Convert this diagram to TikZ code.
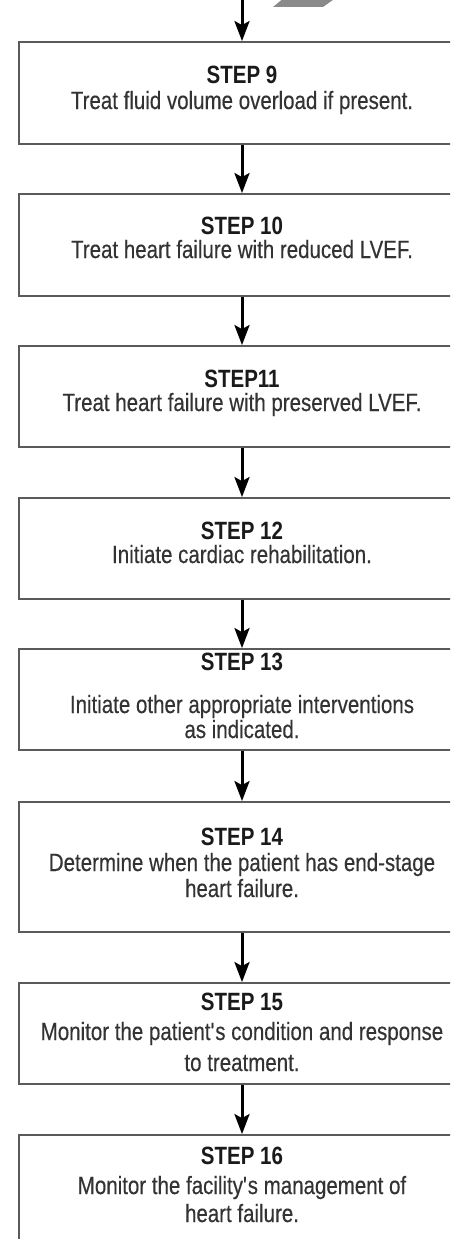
\documentclass[tikz,border=0pt]{standalone}
\usepackage{fontspec}
\setmainfont{Liberation Sans}[FakeStretch=0.82, UprightFeatures={FakeBold=0.3}]
\usetikzlibrary{arrows.meta}
\definecolor{boxgray}{HTML}{5A5A5A}
\definecolor{txtgray}{HTML}{333333}
\definecolor{headgray}{HTML}{1A1A1A}
\definecolor{shapegray}{HTML}{8A8A8A}
\begin{document}
\begin{tikzpicture}[x=1pt,y=-1pt,
  stepbox/.style={draw=boxgray, line width=1.8pt, fill=white, rectangle, inner sep=0pt, minimum width=446pt},
  arr/.style={line width=3pt, -{Stealth[length=20pt,width=15pt,inset=4pt]}},
  ln/.style={inner sep=0pt, text height=18pt, text depth=0pt, font=\fontsize{25}{28}\selectfont, text=txtgray},
  hd/.style={ln, font=\fontsize{25}{28}\selectfont\bfseries, text=headgray}]
\clip (0,0) rectangle (450,1239);
\fill[white] (0,0) rectangle (450,1239);
% partial grey shape at top
\fill[shapegray] (273,7) -- (285,-3) -- (337,-3) -- (323,7) -- cycle;
% boxes
\node[stepbox, minimum height=102pt] (b9)  at (242,93) {};
\node[stepbox, minimum height=102pt] (b10) at (242,245) {};
\node[stepbox, minimum height=101pt] (b11) at (242,396.5) {};
\node[stepbox, minimum height=101pt] (b12) at (242,548.5) {};
\node[stepbox, minimum height=101pt] (b13) at (242,699.5) {};
\node[stepbox, minimum height=130pt] (b14) at (242,867) {};
\node[stepbox, minimum height=101pt] (b15) at (242,1033.5) {};
\node[stepbox, minimum height=125pt] (b16) at (242,1197.5) {};
% texts
\node[hd] (s9) at (242,75) {STEP 9};
\node[ln] (d9) at (242,100) {Treat fluid volume overload if present.};
\node[hd] (s10) at (242,225) {STEP 10};
\node[ln] (d10) at (242,249) {Treat heart failure with reduced LVEF.};
\node[hd] (s11) at (242,378) {STEP11};
\node[ln] (d11) at (242,402) {Treat heart failure with preserved LVEF.};
\node[hd] (s12) at (242,530) {STEP 12};
\node[ln] (d12) at (242,554) {Initiate cardiac rehabilitation.};
\node[hd] (s13) at (242,661) {STEP 13};
\node[ln] (d13a) at (242,704) {Initiate other appropriate interventions};
\node[ln] (d13b) at (242,729) {as indicated.};
\node[hd] (s14) at (242,836) {STEP 14};
\node[ln] (d14a) at (242,862) {Determine when the patient has end-stage};
\node[ln] (d14b) at (242,888) {heart failure.};
\node[hd] (s15) at (242,1001) {STEP 15};
\node[ln] (d15a) at (242,1031) {Monitor the patient\textquotesingle s condition and response};
\node[ln] (d15b) at (242,1062) {to treatment.};
\node[hd] (s16) at (242,1155) {STEP 16};
\node[ln] (d16a) at (242,1185) {Monitor the facility\textquotesingle s management of};
\node[ln] (d16b) at (242,1213) {heart failure.};
% connectors
\coordinate (top) at (242,0);
\draw[arr] (top) -- (b9.north);
\draw[arr] (b9.south) -- (b10.north);
\draw[arr] (b10.south) -- (b11.north);
\draw[arr] (b11.south) -- (b12.north);
\draw[arr] (b12.south) -- (b13.north);
\draw[arr] (b13.south) -- (b14.north);
\draw[arr] (b14.south) -- (b15.north);
\draw[arr] (b15.south) -- (b16.north);
\end{tikzpicture}
\end{document}
